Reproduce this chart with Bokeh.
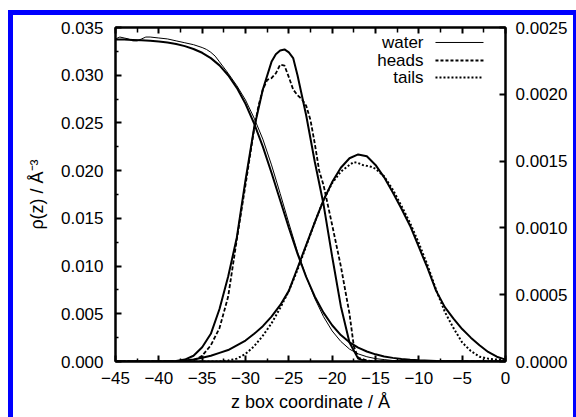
from bokeh.plotting import figure
from bokeh.models import LinearAxis, Range1d, FixedTicker, Label
from bokeh.embed import file_html
from bokeh.resources import INLINE

# ---------------- data ----------------
water_sim_z = [-45, -44.5, -44, -43.5, -43, -42.5, -42, -41.5, -41, -40, -39, -38, -37, -36, -35,
               -34.5, -34, -33.5, -33, -32, -31, -30, -29, -28, -27, -26, -25, -24, -23, -22,
               -21, -20, -19, -18, -17, -16, -15, -14, -13, -12, -10, -5, 0]
water_sim_rho = [0.0338, 0.0340, 0.0339, 0.0338, 0.0336, 0.0336, 0.0338, 0.0340, 0.0340, 0.0339,
                 0.0338, 0.0336, 0.0334, 0.0332, 0.0329, 0.0327, 0.0324, 0.0320, 0.0314, 0.0302,
                 0.0289, 0.0274, 0.0255, 0.0233, 0.0206, 0.0176, 0.0145, 0.0115, 0.0089, 0.0066,
                 0.0047, 0.0032, 0.0021, 0.0013, 0.0008, 0.0005, 0.0003, 0.0002, 0.0001, 0.0001,
                 0.0, 0.0, 0.0]

water_fit_z = [-45, -44, -43, -42, -41, -40, -39, -38, -37, -36, -35, -34, -33, -32, -31, -30,
               -29, -28, -27, -26, -25, -24, -23, -22, -21, -20, -19, -18, -17, -16, -15, -14,
               -13, -12, -11, -10, -8, -5, 0]
water_fit_rho = [0.03375, 0.03373, 0.0337, 0.03366, 0.03361, 0.03353, 0.03342, 0.03327, 0.03305,
                 0.03275, 0.03235, 0.03179, 0.03103, 0.0300, 0.02868, 0.02701, 0.02493, 0.02251,
                 0.01978, 0.0169, 0.01402, 0.01129, 0.00887, 0.00679, 0.00512, 0.0038, 0.00277,
                 0.00201, 0.00145, 0.00105, 0.00075, 0.00053, 0.00038, 0.00027, 0.00019, 0.00013,
                 0.00006, 0.00002, 0.0]

heads_sim_z = [-45, -37, -36, -35, -34, -33, -32, -31, -30, -29, -28.5, -28, -27.5, -27, -26.5,
               -26, -25.5, -25, -24.5, -24, -23.5, -23, -22.5, -22, -21.5, -21, -20, -19, -18,
               -17.5, -17, -16, -15, 0]
heads_sim_rho = [0.0, 0.0, 0.0001, 0.0006, 0.0017, 0.0035, 0.0068, 0.0128, 0.0185, 0.0244, 0.0268,
                 0.0285, 0.0295, 0.0297, 0.0302, 0.0311, 0.0310, 0.0298, 0.0285, 0.0279, 0.0275,
                 0.0268, 0.0253, 0.0228, 0.0200, 0.0185, 0.0143, 0.0100, 0.0050, 0.0016, 0.0004,
                 0.0001, 0.0, 0.0]

heads_fit_z = [-45, -40, -38, -37, -36, -35, -34, -33, -32, -31, -30, -29, -28, -27, -26.5, -26,
               -25.5, -25, -24.5, -24, -23, -22, -21, -20, -19, -18, -17, -16, 0]
heads_fit_rho = [0.0, 0.0, 0.00005, 0.0002, 0.0006, 0.0015, 0.0029, 0.0055, 0.0089, 0.0130,
                 0.0190, 0.0245, 0.0285, 0.0314, 0.0322, 0.0326, 0.0327, 0.0324, 0.0318, 0.0300,
                 0.0258, 0.0209, 0.0165, 0.0110, 0.0058, 0.0020, 0.0003, 0.0, 0.0]

tails_sim_z = [-45, -33, -32, -31, -30, -29, -28, -27, -26, -25, -24, -23, -22, -21, -20, -19,
               -18, -17.5, -17, -16.5, -16, -15.5, -15, -14, -13, -12, -11, -10, -9, -8, -7, -6,
               -5, -4, -3, -2, -1, 0]
tails_sim_rho = [0.0, 0.0, 0.0001, 0.0003, 0.0008, 0.0016, 0.0027, 0.0040, 0.0056, 0.0074, 0.0096,
                 0.0121, 0.0146, 0.0169, 0.0187, 0.0199, 0.0206, 0.0209, 0.0208, 0.0206, 0.0205,
                 0.0204, 0.0202, 0.0194, 0.0180, 0.0163, 0.0145, 0.0124, 0.0101, 0.0075, 0.0052,
                 0.0035, 0.0020, 0.0011, 0.0005, 0.0003, 0.0002, 0.0001]

tails_fit_z = [-45, -38, -37, -36, -35, -34, -33, -32, -31, -30, -29, -28, -27, -26, -25, -24,
               -23, -22, -21, -20, -19, -18, -17, -16, -15, -14, -13, -12, -11, -10, -9, -8, -7,
               -6, -5, -4, -3, -2, -1, 0]
tails_fit_rho = [0.0, 0.0, 0.0001, 0.0002, 0.0004, 0.0006, 0.0009, 0.0012, 0.0017, 0.0022, 0.0029,
                 0.0037, 0.0047, 0.0059, 0.0074, 0.0098, 0.0122, 0.0146, 0.0169, 0.0188, 0.0203,
                 0.0213, 0.0217, 0.0215, 0.0206, 0.0193, 0.0177, 0.0160, 0.0142, 0.0120, 0.0098,
                 0.0074, 0.0057, 0.0045, 0.0034, 0.0025, 0.0017, 0.0010, 0.0005, 0.0002]

legend_labels = ["water", "heads", "tails"]

x_ticks = [-45, -40, -35, -30, -25, -20, -15, -10, -5, 0]
x_tick_labels = ["\u221245", "\u221240", "\u221235", "\u221230", "\u221225", "\u221220",
                 "\u221215", "\u221210", "\u22125", "0"]
x_minor = [-42.5, -37.5, -32.5, -27.5, -22.5, -17.5, -12.5, -7.5, -2.5]
y_ticks = [0.0, 0.005, 0.010, 0.015, 0.020, 0.025, 0.030, 0.035]
y_tick_labels = ["0.000", "0.005", "0.010", "0.015", "0.020", "0.025", "0.030", "0.035"]
y_minor = [0.0025, 0.0075, 0.0125, 0.0175, 0.0225, 0.0275, 0.0325]
y2_ticks = [0.0, 0.0005, 0.0010, 0.0015, 0.0020, 0.0025]
y2_tick_labels = ["0.0000", "0.0005", "0.0010", "0.0015", "0.0020", "0.0025"]

x_label = "z box coordinate / \u00c5"
y_label = "\u03c1(z) / \u00c5\u207b\u00b3"

# ---------------- style ----------------
FONT = "Liberation Sans"
FS = "17px"
FS_LABEL = "18px"

p = figure(width=560, height=402, x_range=Range1d(-45, 0), y_range=Range1d(0, 0.035),
           output_backend="svg", toolbar_location=None,
           min_border_left=102, min_border_right=68, min_border_top=12, min_border_bottom=56)
p.styles = {"margin-left": "13px", "margin-top": "15px", "outline": "5px solid #0000ff"}
p.extra_y_ranges = {"r": Range1d(0, 0.0025)}
p.grid.visible = False
p.outline_line_color = "black"
p.outline_line_width = 2
p.background_fill_color = "white"
p.border_fill_color = "white"


def style_axis(ax, ticks, minor, labels):
    ax.ticker = FixedTicker(ticks=ticks, minor_ticks=minor)
    ax.major_label_overrides = {t: l for t, l in zip(ticks, labels)}
    ax.major_tick_in = 6
    ax.major_tick_out = 0
    ax.minor_tick_in = 3
    ax.minor_tick_out = 0
    ax.axis_line_width = 2
    ax.major_tick_line_width = 2
    ax.minor_tick_line_width = 1.5
    ax.major_label_text_font = FONT
    ax.major_label_text_font_size = FS
    ax.major_label_text_color = "black"
    ax.axis_label_text_font = FONT
    ax.axis_label_text_font_size = FS_LABEL
    ax.axis_label_text_font_style = "normal"
    ax.axis_label_text_color = "black"


xa = p.xaxis[0]
style_axis(xa, x_ticks, x_minor, x_tick_labels)
xa.axis_label = x_label
xa.major_label_standoff = 10
xa.axis_label_standoff = 5

ya = p.yaxis[0]
style_axis(ya, y_ticks, y_minor, y_tick_labels)
ya.axis_label = y_label
ya.major_label_standoff = 12
ya.axis_label_standoff = 11

ra = LinearAxis(y_range_name="r")
style_axis(ra, y2_ticks, [], y2_tick_labels)
ra.major_label_standoff = 10
p.add_layout(ra, "right")

ta = LinearAxis()
style_axis(ta, x_ticks, x_minor, ["" for _ in x_ticks])
ta.major_label_text_font_size = "0px"
ta.major_label_standoff = 0
ta.minor_tick_in = 5
p.add_layout(ta, "above")

# ---------------- curves ----------------
p.line(water_fit_z, water_fit_rho, line_color="black", line_width=2)
p.line(water_sim_z, water_sim_rho, line_color="black", line_width=1)
p.line(heads_fit_z, heads_fit_rho, line_color="black", line_width=2)
p.line(heads_sim_z, heads_sim_rho, line_color="black", line_width=1.8, line_dash="4 2")
p.line(tails_fit_z, tails_fit_rho, line_color="black", line_width=2)
p.line(tails_sim_z, tails_sim_rho, line_color="black", line_width=2, line_dash="2 2")

# ---------------- legend (label left, sample right) ----------------
LEG_TEXT_X = -9.46
LEG_SAMPLE_X = (-8.08, -2.54)
LEG_ROWS = [0.03343, 0.03154, 0.02976]
LEG_STYLE = [dict(line_width=1), dict(line_width=1.8, line_dash="3 2"),
             dict(line_width=2, line_dash="2 2")]
for lab, yy, st in zip(legend_labels, LEG_ROWS, LEG_STYLE):
    p.add_layout(Label(x=LEG_TEXT_X, y=yy, text=lab, text_align="right", text_baseline="middle",
                       text_font=FONT, text_font_size=FS, text_color="black"))
    p.line(list(LEG_SAMPLE_X), [yy, yy], line_color="black", **st)

open("out.html", "w").write(file_html(p, INLINE))
